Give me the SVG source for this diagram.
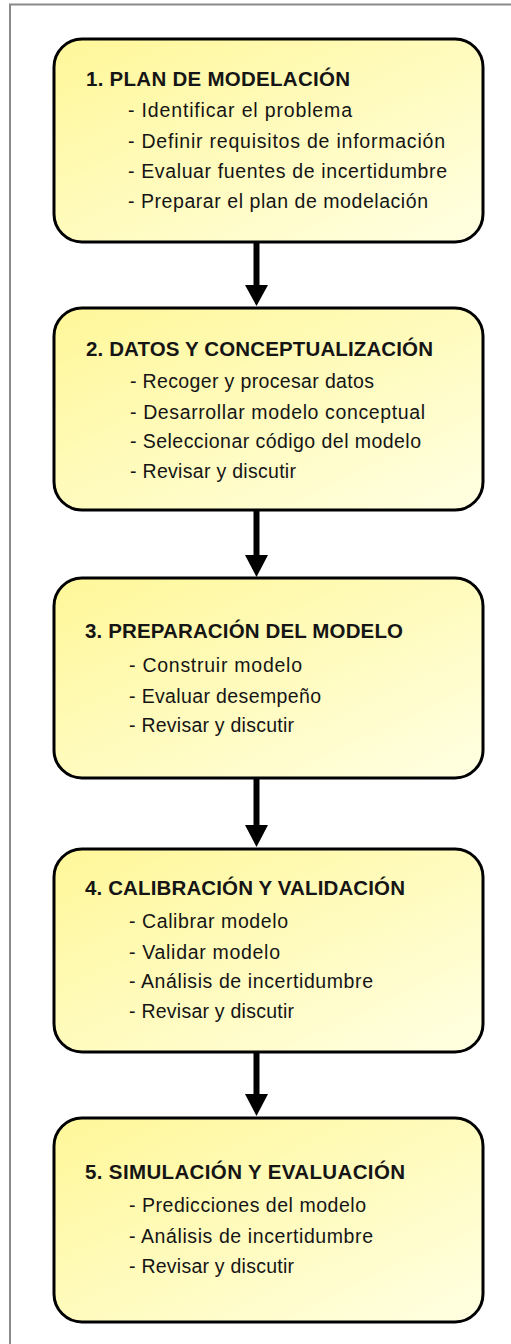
<svg xmlns="http://www.w3.org/2000/svg" width="511" height="1344" viewBox="0 0 511 1344">
  <style>
    .box { fill: url(#yel); stroke: #000; stroke-width: 3; }
    .title { font-family: "Liberation Sans", Arial, sans-serif; font-weight: bold; font-size: 20.5px; fill: #151515; }
    .item { font-family: "Liberation Sans", Arial, sans-serif; font-size: 19.5px; fill: #151515; }
    .conn { stroke: #000; stroke-width: 6; fill: none; }
    .head { fill: #000; }
  </style>
  <defs>
    <linearGradient id="yel" x1="0" y1="0" x2="1" y2="1">
      <stop offset="0" stop-color="#FFF799"/>
      <stop offset="1" stop-color="#FFFFE2"/>
    </linearGradient>
  </defs>
  <rect width="511" height="1344" fill="#fff"/>
  <path d="M10,1344 V4.5 H511" fill="none" stroke="#8a8a8a" stroke-width="2"/>

  <g id="connectors">
    <line class="conn" x1="256.5" y1="242" x2="256.5" y2="288"/>
    <polygon class="head" points="245,285 268,285 256.5,306"/>
    <line class="conn" x1="256.5" y1="510" x2="256.5" y2="558"/>
    <polygon class="head" points="245,555 268,555 256.5,577"/>
    <line class="conn" x1="256.5" y1="778" x2="256.5" y2="828"/>
    <polygon class="head" points="245,825 268,825 256.5,847"/>
    <line class="conn" x1="256.5" y1="1052" x2="256.5" y2="1097"/>
    <polygon class="head" points="245,1094 268,1094 256.5,1116"/>
  </g>

  <g id="node1">
    <rect class="box" x="54" y="39" width="429" height="203" rx="28"/>
    <text class="title" x="86" y="86" textLength="264">1. PLAN DE MODELACIÓN</text>
    <text class="item" x="128" y="117" textLength="224">- Identificar el problema</text>
    <text class="item" x="128" y="148" textLength="317">- Definir requisitos de información</text>
    <text class="item" x="128" y="178" textLength="319">- Evaluar fuentes de incertidumbre</text>
    <text class="item" x="128" y="208" textLength="300">- Preparar el plan de modelación</text>
  </g>

  <g id="node2">
    <rect class="box" x="54" y="308" width="429" height="202" rx="28"/>
    <text class="title" x="86" y="356" textLength="347">2. DATOS Y CONCEPTUALIZACIÓN</text>
    <text class="item" x="130" y="388" textLength="244">- Recoger y procesar datos</text>
    <text class="item" x="130" y="419" textLength="295">- Desarrollar modelo conceptual</text>
    <text class="item" x="130" y="448" textLength="291">- Seleccionar código del modelo</text>
    <text class="item" x="130" y="478" textLength="166">- Revisar y discutir</text>
  </g>

  <g id="node3">
    <rect class="box" x="54" y="578" width="429" height="200" rx="28"/>
    <text class="title" x="85" y="638" textLength="318">3. PREPARACIÓN DEL MODELO</text>
    <text class="item" x="129" y="672" textLength="173">- Construir modelo</text>
    <text class="item" x="129" y="703" textLength="192">- Evaluar desempeño</text>
    <text class="item" x="129" y="732" textLength="165">- Revisar y discutir</text>
  </g>

  <g id="node4">
    <rect class="box" x="54" y="849" width="429" height="203" rx="28"/>
    <text class="title" x="85" y="895" textLength="320">4. CALIBRACIÓN Y VALIDACIÓN</text>
    <text class="item" x="129" y="928" textLength="159">- Calibrar modelo</text>
    <text class="item" x="129" y="959" textLength="151">- Validar modelo</text>
    <text class="item" x="129" y="988" textLength="244">- Análisis de incertidumbre</text>
    <text class="item" x="129" y="1018" textLength="165">- Revisar y discutir</text>
  </g>

  <g id="node5">
    <rect class="box" x="54" y="1118" width="429" height="204" rx="28"/>
    <text class="title" x="85" y="1179" textLength="320">5. SIMULACIÓN Y EVALUACIÓN</text>
    <text class="item" x="129" y="1212" textLength="237">- Predicciones del modelo</text>
    <text class="item" x="129" y="1243" textLength="244">- Análisis de incertidumbre</text>
    <text class="item" x="129" y="1273" textLength="165">- Revisar y discutir</text>
  </g>
</svg>
